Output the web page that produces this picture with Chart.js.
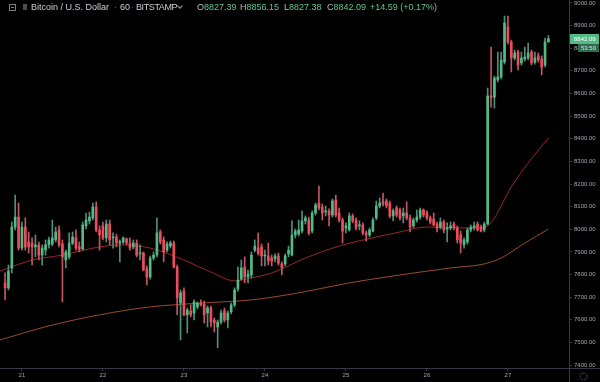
<!DOCTYPE html>
<html>
<head>
<meta charset="utf-8">
<script src="https://cdn.jsdelivr.net/npm/chart.js@4.4.0/dist/chart.umd.min.js"></script>
<style>
  html, body { margin: 0; padding: 0; background: #000; }
  #wrap { position: relative; width: 600px; height: 382px; overflow: hidden; }
  #header { position: absolute; left: 0; top: 0; width: 600px; height: 14px;
            font: 9px "Liberation Sans", Arial, sans-serif; color: #c9ccd2; }
  #header span.item { position: absolute; top: 2px; white-space: nowrap; line-height: 10px; }
  .g { color: #5fc48a; }
  .lbl { color: #b8bbc2; }
  .dot { color: #6b6e75; }
  .ic1 { position: absolute; left: 9px; top: 4px; width: 5px; height: 5px; border: 1px solid #7d8088; }
  .ic1::after { content: ""; position: absolute; left: 1px; top: 2px; width: 3px; height: 1px; background: #7d8088; }
  .ic2 { position: absolute; left: 23px; top: 4px; width: 4px; height: 6px; background: #4a4d55; }
  .chev { position: absolute; left: 178px; top: 4px; width: 3px; height: 3px;
          border-right: 1px solid #9a9da4; border-bottom: 1px solid #9a9da4; transform: rotate(45deg); }
</style>
</head>
<body>
<div id="wrap">
  <canvas id="chart" width="600" height="382"></canvas>
  <div id="header">
    <span class="ic1"></span>
    <span class="ic2"></span>
    <span class="item" style="left:31px">Bitcoin / U.S. Dollar</span>
    <span class="item dot" style="left:114px">·</span>
    <span class="item" style="left:120px">60</span>
    <span class="item dot" style="left:131px">·</span>
    <span class="item" style="left:136px; letter-spacing:-0.4px">BITSTAMP</span>
    <span class="chev"></span>
    <span id="ohlc"></span>
  </div>
</div>
<script>
// hourly candles, index 0 = 20th 19:00
const dayLabels = ['21', '22', '23', '24', '25', '26', '27'];
const dayIndex = [5, 29, 53, 77, 101, 125, 149];
const yTicks = [7400, 7500, 7600, 7700, 7800, 7900, 8000, 8100, 8200, 8300, 8400, 8500, 8600, 8700, 8800, 8900, 9000];

const opens = [
  7763, 7741, 7829, 8010, 8054, 7917, 8010, 7944, 7939, 7922,
  7931, 7886, 7908, 7931, 7935, 7953, 7997, 7935, 7864, 7878,
  7939, 7962, 7922, 7913, 8015, 8037, 8050, 8098, 7997, 8015,
  7962, 8023, 7962, 7966, 7939, 7944, 7957, 7939, 7922, 7939,
  7891, 7895, 7825, 7789, 7873, 7886, 7988, 7953, 7908, 7926,
  7939, 7833, 7674, 7727, 7622, 7639, 7630, 7657, 7674, 7670,
  7630, 7652, 7599, 7568, 7590, 7639, 7599, 7635, 7666, 7736,
  7780, 7833, 7789, 7798, 7908, 7917, 7922, 7882, 7882, 7873,
  7869, 7882, 7847, 7847, 7891, 7886, 7975, 7979, 7992, 8037,
  8041, 7992, 8072, 8116, 8098, 8076, 8081, 8063, 8129, 8072,
  8041, 8006, 7997, 8059, 8041, 8015, 8019, 7984, 7975, 7992,
  8050, 8103, 8121, 8125, 8116, 8059, 8094, 8085, 8059, 8072,
  8050, 8015, 8041, 8054, 8085, 8072, 8050, 8045, 8023, 8010,
  8032, 8001, 8006, 8023, 8006, 7975, 7931, 7944, 7997, 8006,
  8023, 8010, 7997, 8023, 8589, 8584, 8660, 8673, 8739, 8894,
  8827, 8757, 8783, 8735, 8752, 8757, 8783, 8739, 8766, 8752,
  8726, 8827.39
];
const highs = [
  7807, 7842, 8032, 8151, 8116, 8032, 8050, 7988, 7962, 7975,
  7944, 7931, 7953, 7966, 8041, 8010, 8015, 7953, 7908, 7984,
  7988, 7997, 7944, 8032, 8072, 8076, 8116, 8121, 8015, 8032,
  8041, 8041, 7984, 7979, 7953, 7966, 7962, 7962, 7953, 7953,
  7931, 7900, 7838, 7882, 7900, 8050, 7997, 7966, 7944, 7948,
  7948, 7842, 7732, 7741, 7652, 7666, 7688, 7679, 7688, 7683,
  7661, 7661, 7608, 7599, 7643, 7652, 7639, 7674, 7741, 7833,
  7864, 7878, 7820, 7900, 7953, 7984, 7935, 7908, 7939, 7886,
  7891, 7895, 7856, 7891, 7926, 8037, 8001, 8041, 8081, 8059,
  8054, 8081, 8116, 8191, 8112, 8103, 8090, 8134, 8151, 8094,
  8050, 8028, 8072, 8068, 8050, 8037, 8028, 7992, 8006, 8050,
  8125, 8138, 8160, 8134, 8125, 8090, 8103, 8094, 8094, 8121,
  8063, 8050, 8085, 8094, 8090, 8081, 8059, 8072, 8032, 8050,
  8041, 8028, 8032, 8032, 8015, 7992, 7962, 8006, 8019, 8032,
  8032, 8019, 8032, 8624, 8805, 8677, 8783, 8783, 8942, 8942,
  8836, 8792, 8792, 8783, 8805, 8823, 8792, 8783, 8779, 8766,
  8845, 8856.15
];
const lows = [
  7688, 7732, 7807, 7997, 7908, 7908, 7908, 7895, 7842, 7878,
  7864, 7842, 7886, 7917, 7926, 7944, 7922, 7679, 7829, 7869,
  7931, 7908, 7900, 7908, 8001, 8023, 8041, 7988, 7908, 7953,
  7944, 7931, 7917, 7922, 7856, 7935, 7931, 7908, 7913, 7878,
  7864, 7816, 7754, 7780, 7864, 7878, 7935, 7856, 7900, 7917,
  7829, 7622, 7511, 7617, 7542, 7613, 7599, 7648, 7661, 7586,
  7568, 7568, 7546, 7476, 7582, 7590, 7564, 7626, 7657, 7727,
  7776, 7763, 7763, 7785, 7900, 7886, 7838, 7838, 7842, 7838,
  7856, 7842, 7798, 7838, 7878, 7882, 7962, 7970, 7984, 8023,
  7975, 7984, 8063, 8085, 8041, 8059, 8015, 8054, 8054, 8032,
  7939, 7984, 7992, 8028, 7997, 7997, 7975, 7948, 7966, 7988,
  8041, 8094, 8103, 8094, 8050, 8037, 8054, 8041, 8028, 8041,
  7988, 8006, 8032, 8045, 8054, 8041, 8023, 8015, 7988, 8001,
  7984, 7944, 7997, 7997, 7939, 7895, 7917, 7935, 7988, 7997,
  7992, 7988, 7988, 8019, 8540, 8536, 8651, 8664, 8730, 8819,
  8695, 8748, 8704, 8726, 8743, 8748, 8726, 8730, 8739, 8682,
  8717, 8827.38
];
const closes = [
  7741, 7816, 8010, 8054, 7917, 8010, 7922, 7922, 7922, 7931,
  7886, 7917, 7931, 7953, 7962, 7988, 7931, 7878, 7900, 7939,
  7966, 7917, 7913, 8019, 8041, 8054, 8098, 7997, 7975, 7962,
  8023, 7953, 7966, 7939, 7944, 7962, 7939, 7917, 7939, 7886,
  7895, 7820, 7789, 7873, 7886, 7984, 7944, 7900, 7935, 7939,
  7833, 7697, 7719, 7622, 7643, 7622, 7679, 7674, 7666, 7622,
  7652, 7590, 7586, 7590, 7630, 7599, 7630, 7666, 7732, 7776,
  7829, 7789, 7802, 7886, 7926, 7895, 7882, 7886, 7860, 7860,
  7882, 7851, 7829, 7882, 7908, 7975, 7992, 7997, 8037, 8050,
  7984, 8072, 8107, 8094, 8072, 8081, 8063, 8125, 8063, 8041,
  7992, 8015, 8059, 8037, 8006, 8019, 7984, 7975, 7997, 8041,
  8103, 8116, 8112, 8103, 8059, 8081, 8063, 8050, 8072, 8050,
  8010, 8041, 8054, 8085, 8063, 8050, 8032, 8019, 8006, 8032,
  7997, 8006, 8015, 8006, 7953, 7939, 7953, 7997, 8010, 8015,
  7997, 7992, 8023, 8589, 8580, 8668, 8673, 8748, 8911, 8827,
  8757, 8779, 8726, 8757, 8761, 8779, 8735, 8757, 8748, 8717,
  8827.5, 8842.09
];

// moving averages (candle index, price)
const maFastIndex = [-1.5, 8, 17, 28, 34, 43, 53, 61, 68, 73, 79, 89, 99, 109, 117, 125, 135, 142, 144, 150, 155, 161];
const maFastValues = [7815, 7864, 7886, 7922, 7931, 7917, 7864, 7811, 7772, 7785, 7807, 7873, 7926, 7962, 7988, 8010, 8006, 8010, 8028, 8187, 8293, 8403];
const maSlowIndex = [-1.5, 13, 28, 43, 58, 73, 87, 102, 117, 132, 142, 147, 154, 161];
const maSlowValues = [7511, 7573, 7622, 7657, 7674, 7688, 7719, 7763, 7798, 7829, 7847, 7873, 7939, 8001];

const countdown = '53:50';

const FONT = '"Liberation Sans", Arial, sans-serif';
const UP = '#53b987';
const DOWN = '#eb4d5c';
const AXIS = '#363a45';
const TEXT = '#a3a6ad';

// legend values from the last candle
const n = closes.length - 1;
const chg = closes[n] - closes[n - 1];
const pct = chg / closes[n - 1] * 100;
const sign = chg >= 0 ? '+' : '';
const ohlcItems = [
  [197, 'O', opens[n].toFixed(2)],
  [240, 'H', highs[n].toFixed(2)],
  [284, 'L', lows[n].toFixed(2)],
  [327, 'C', closes[n].toFixed(2)],
  [370, '', sign + chg.toFixed(2) + ' (' + sign + pct.toFixed(2) + '%)']
];
document.getElementById('ohlc').innerHTML = ohlcItems.map(([left, l, v]) =>
  `<span class="item" style="left:${left}px"><span class="lbl">${l}</span><span class="g">${v}</span></span>`
).join('');

const isUp = closes.map((c, i) => c >= opens[i]);

// keep the plot flush with the canvas edges
const noPad = s => { s.paddingTop = 0; s.paddingBottom = 0; s.paddingLeft = 0; s.paddingRight = 0; };

const frame = {
  id: 'frame',
  beforeDraw(chart) {
    const ctx = chart.ctx;
    ctx.save();
    ctx.fillStyle = '#000';
    ctx.fillRect(0, 0, chart.width, chart.height);
    ctx.restore();
  },
  afterDraw(chart) {
    const { ctx, chartArea: a } = chart;
    const y = chart.scales.y;
    ctx.save();
    ctx.strokeStyle = AXIS;
    ctx.lineWidth = 1;
    ctx.beginPath();
    ctx.moveTo(Math.round(a.right) + 0.5, 0);
    ctx.lineTo(Math.round(a.right) + 0.5, chart.height);
    ctx.moveTo(0, Math.round(a.bottom) + 0.5);
    ctx.lineTo(chart.width, Math.round(a.bottom) + 0.5);
    ctx.stroke();

    // last price label and countdown
    const last = closes[n];
    const py = Math.round(y.getPixelForValue(last));
    const x0 = Math.round(a.right) + 1;
    ctx.fillStyle = UP;
    ctx.fillRect(x0, py - 5, chart.width - x0 - 1, 10);
    ctx.fillStyle = '#ffffff';
    ctx.font = '6px ' + FONT;
    ctx.textBaseline = 'middle';
    ctx.fillText(last.toFixed(2), x0 + 4, py + 0.5);
    ctx.fillStyle = '#2c6b4e';
    ctx.fillRect(x0 + 8, py + 5, chart.width - x0 - 9, 8);
    ctx.fillStyle = '#d8eadf';
    ctx.fillText(countdown, x0 + 11, py + 9.5);

    // settings icon
    ctx.strokeStyle = '#6d7079';
    ctx.setLineDash([1, 1]);
    ctx.beginPath();
    ctx.arc(583.5, 376.5, 3.5, 0, Math.PI * 2);
    ctx.stroke();
    ctx.restore();
  }
};

new Chart(document.getElementById('chart').getContext('2d'), {
  type: 'bar',
  data: {
    datasets: [
      {
        type: 'line',
        label: 'MA slow',
        data: maSlowIndex.map((x, i) => ({ x: x, y: maSlowValues[i] })),
        borderColor: '#9c4a2a',
        borderWidth: 1,
        pointRadius: 0,
        cubicInterpolationMode: 'monotone',
        order: 3
      },
      {
        type: 'line',
        label: 'MA fast',
        data: maFastIndex.map((x, i) => ({ x: x, y: maFastValues[i] })),
        borderColor: '#9a2626',
        borderWidth: 1,
        pointRadius: 0,
        cubicInterpolationMode: 'monotone',
        order: 2
      },
      {
        label: 'wick',
        data: lows.map((l, i) => ({ x: i, y: [l, highs[i]] })),
        backgroundColor: isUp.map(u => u ? '#4f8f7c' : '#c45663'),
        barThickness: 1,
        grouped: false,
        order: 1
      },
      {
        label: 'body',
        data: opens.map((o, i) => ({ x: i, y: [o, closes[i]] })),
        backgroundColor: isUp.map(u => u ? UP : DOWN),
        barThickness: 2,
        minBarLength: 1,
        grouped: false,
        order: 0
      }
    ]
  },
  options: {
    responsive: false,
    animation: false,
    devicePixelRatio: 1,
    layout: { padding: 0 },
    plugins: { legend: { display: false }, tooltip: { enabled: false } },
    scales: {
      x: {
        type: 'linear',
        offset: false,
        min: -1.5,
        max: 167.1,
        afterBuildTicks: s => { s.ticks = dayIndex.map(v => ({ value: v })); },
        afterFit: s => { s.height = 14; noPad(s); },
        grid: { drawOnChartArea: false, tickLength: 3, color: AXIS, offset: false },
        border: { display: false },
        ticks: {
          color: TEXT,
          font: { family: FONT, size: 6 },
          padding: 1,
          maxRotation: 0,
          autoSkip: false,
          callback: v => dayLabels[dayIndex.indexOf(v)]
        }
      },
      y: {
        type: 'linear',
        position: 'right',
        min: 7387,
        max: 9013,
        afterBuildTicks: s => { s.ticks = yTicks.map(v => ({ value: v })); },
        afterFit: s => { s.width = 31; noPad(s); },
        grid: { drawOnChartArea: false, tickLength: 3, color: AXIS },
        border: { display: false },
        ticks: {
          color: TEXT,
          font: { family: FONT, size: 6 },
          padding: 2,
          callback: v => v.toFixed(2)
        }
      }
    }
  },
  plugins: [frame]
});
</script>
</body>
</html>
